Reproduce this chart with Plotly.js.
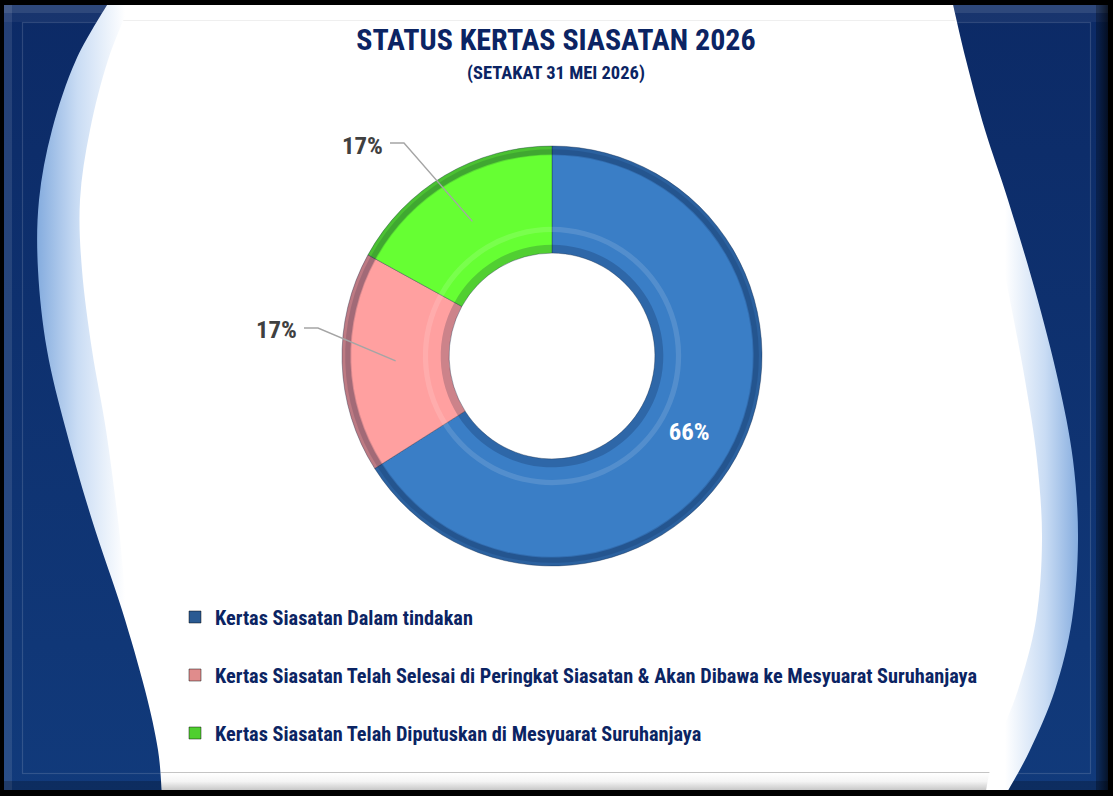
<!DOCTYPE html>
<html><head><meta charset="utf-8">
<script src="https://cdn.plot.ly/plotly-3.0.1.min.js"></script>
<style>html,body{margin:0;padding:0;background:#000;overflow:hidden}#chart{width:1113px;height:796px}</style>
</head><body><div id="chart"></div>
<script>
// ---------- data ----------
const categories = [
  'Kertas Siasatan Dalam tindakan',
  'Kertas Siasatan Telah Selesai di Peringkat Siasatan & Akan Dibawa ke Mesyuarat Suruhanjaya',
  'Kertas Siasatan Telah Diputuskan di Mesyuarat Suruhanjaya'
];
const shares = [66, 17, 17];
const titleText = 'STATUS KERTAS SIASATAN 2026';
const subtitleText = '(SETAKAT 31 MEI 2026)';

// ---------- styles ----------
const sliceColors = ['#3A7EC6', '#FFA0A0', '#66FF33'];
const legendColors = ['#2a5a92', '#e08c8c', '#4fcf2f'];
const NAVY = '#0b2463';
const W = 1113, H = 796;
const CX = 552, CY = 356, R = 210, HOLE = 0.49;
// label anchor positions (px) for the outside labels, by slice index
const outsideLabelPos = [null, {x: 276, y: 330}, {x: 362, y: 145}];

// ---------- pick the narrowest available condensed font ----------
const cv = document.createElement('canvas').getContext('2d');
function measure(fam, txt, size) { cv.font = `bold ${size}px ${fam}`; return cv.measureText(txt).width; }
function available(name) {
  const t = 'STATUS Kertas 2026 &%';
  return measure(`"${name}", monospace`, t, 40) !== measure('monospace', t, 40) ||
         measure(`"${name}", serif`, t, 40) !== measure('serif', t, 40);
}
const candidates = ['Roboto Condensed', 'Liberation Sans Narrow', 'Arial Narrow', 'Noto Sans Condensed',
                    'Open Sans Condensed', 'Noto Sans Display Condensed', 'DejaVu Sans Condensed'];
let chosen = candidates.find(available) || 'DejaVu Sans Condensed';
const FONT = `"${chosen}", "DejaVu Sans Condensed", sans-serif`;
function fit(txt, targetW, maxSize) {
  const w = measure(FONT, txt, 100);
  return Math.min(maxSize, Math.floor(100 * targetW / w * 10) / 10);
}
const titleSize = fit(titleText, 406, 30);
const subSize = fit(subtitleText, 179, 20);
const legendSize = fit(categories[1], 766, 21);
const labelSize = fit('17%', 41, 27);

function dom(r) {
  return {x: [(CX - r) / W, (CX + r) / W], y: [(H - CY - r) / H, (H - CY + r) / H]};
}
const px = (x) => x / W, py = (y) => 1 - y / H;

// ---------- background (decorative frame) ----------
function segs(pts) {
  let d = '';
  for (let i = 0; i < pts.length - 1; i++) {
    const p0 = pts[i - 1] || pts[i], p1 = pts[i], p2 = pts[i + 1], p3 = pts[i + 2] || p2;
    const c1 = [p1[0] + (p2[0] - p0[0]) / 6, p1[1] + (p2[1] - p0[1]) / 6];
    const c2 = [p2[0] - (p3[0] - p1[0]) / 6, p2[1] - (p3[1] - p1[1]) / 6];
    d += ` C${c1[0].toFixed(1)},${c1[1].toFixed(1)} ${c2[0].toFixed(1)},${c2[1].toFixed(1)} ${p2[0]},${p2[1]}`;
  }
  return d;
}
const Ldark = [[110,0],[76,60],[52,130],[39,200],[38,270],[47,350],[66,430],[92,520],[122,610],[145,690],[158,750],[162,796]];
const Llight = [[132,0],[108,60],[90,130],[80,200],[82,270],[92,350],[106,430],[118,520],[128,610],[146,690],[158,750],[162,796]];
const Rdark = [[952,0],[966,60],[985,130],[1008,200],[1035,290],[1058,380],[1073,460],[1078,540],[1072,620],[1055,690],[1030,750],[1005,796]];
const Rlight = [[952,0],[961,60],[974,130],[990,200],[1008,290],[1025,380],[1037,460],[1042,540],[1036,620],[1018,690],[995,750],[985,796]];
const regL = (p) => `M0,0 L${p[0][0]},${p[0][1]}${segs(p)} L0,796 Z`;
const regR = (p) => `M1113,0 L${p[0][0]},${p[0][1]}${segs(p)} L1113,796 Z`;

const svg = `<svg xmlns="http://www.w3.org/2000/svg" width="1113" height="796" viewBox="0 0 1113 796">
<defs>
<linearGradient id="dk" x1="0" y1="0" x2="0" y2="1"><stop offset="0" stop-color="#0c2a66"/><stop offset="1" stop-color="#113a7b"/></linearGradient>
<linearGradient id="lbL" gradientUnits="userSpaceOnUse" x1="38" y1="0" x2="125" y2="0"><stop offset="0" stop-color="#86addf"/><stop offset="0.45" stop-color="#c9dcf4"/><stop offset="1" stop-color="#ffffff"/></linearGradient>
<linearGradient id="lbR" gradientUnits="userSpaceOnUse" x1="1078" y1="0" x2="1005" y2="0"><stop offset="0" stop-color="#86addf"/><stop offset="0.45" stop-color="#c9dcf4"/><stop offset="1" stop-color="#ffffff"/></linearGradient>
<linearGradient id="btm" x1="0" y1="0" x2="0" y2="1"><stop offset="0" stop-color="#ffffff"/><stop offset="0.5" stop-color="#f4f4f4"/><stop offset="1" stop-color="#c8c8c8"/></linearGradient>
<linearGradient id="shR" x1="0" y1="0" x2="1" y2="0"><stop offset="0" stop-color="#000" stop-opacity="0"/><stop offset="1" stop-color="#000" stop-opacity="0.8"/></linearGradient>
<clipPath id="inner"><rect x="4" y="5" width="1104" height="785"/></clipPath>
<clipPath id="dkc"><path d="${regL(Ldark)}"/><path d="${regR(Rdark)}"/></clipPath>
</defs>
<rect width="1113" height="796" fill="#000"/>
<g clip-path="url(#inner)">
<rect width="1113" height="796" fill="#fff"/>
<line x1="0" y1="20.5" x2="1113" y2="20.5" stroke="#efefef" stroke-width="1"/>
<rect x="0" y="773" width="1113" height="17" fill="url(#btm)"/>
<line x1="0" y1="772.5" x2="1113" y2="772.5" stroke="#c4c4c4" stroke-width="1.2"/>
<path d="${regL(Llight)}" fill="url(#lbL)"/>
<path d="${regR(Rlight)}" fill="url(#lbR)"/>
<path d="${regL(Ldark)}" fill="url(#dk)"/>
<path d="${regR(Rdark)}" fill="url(#dk)"/>
<g clip-path="url(#dkc)">
<rect x="4" y="5" width="1104" height="8" fill="#fff" fill-opacity="0.14"/>
<rect x="4" y="5" width="8" height="785" fill="#fff" fill-opacity="0.10"/>
<rect x="4" y="13" width="1104" height="9" fill="#fff" fill-opacity="0.05"/>
<rect x="22.5" y="22.5" width="1068" height="751" fill="none" stroke="#fff" stroke-opacity="0.14" stroke-width="1.2"/>
<rect x="4" y="781" width="1104" height="9" fill="#000" fill-opacity="0.22"/>
<rect x="1096" y="5" width="12" height="785" fill="#000" fill-opacity="0.28"/>
</g>
</g>
<rect x="1098" y="0" width="15" height="796" fill="url(#shR)"/>
</svg>`;
const bgURI = 'data:image/svg+xml;charset=utf-8,' + encodeURIComponent(svg);

// ---------- geometry derived from data ----------
const total = shares.reduce((a, b) => a + b, 0);
const mids = [];
{ let acc = 0; shares.forEach(v => { mids.push((acc + v / 2) / total * 360); acc += v; }); }
const ringMid = R * (1 + HOLE) / 2;
const slicePoint = (i) => {
  const a = mids[i] * Math.PI / 180;
  return {x: CX + ringMid * Math.sin(a), y: CY - ringMid * Math.cos(a)};
};

// ---------- traces ----------
const traces = [];
const baseRing = (r, hole, colors) => ({
  type: 'pie', values: shares, labels: categories, sort: false, direction: 'clockwise', rotation: 0,
  domain: dom(r), hole: hole, textinfo: 'none', hoverinfo: 'skip', showlegend: false,
  marker: {colors: colors, line: {width: 0, color: 'rgba(0,0,0,0)'}}
});
traces.push({
  type: 'pie', values: shares, labels: categories, sort: false, direction: 'clockwise', rotation: 0,
  domain: dom(R), hole: HOLE, showlegend: false,
  marker: {colors: sliceColors, line: {color: 'rgba(20,40,70,0.35)', width: 1}},
  texttemplate: '%{percent:.0%}', textposition: shares.map((v, i) => i === 0 ? 'inside' : 'none'),
  insidetextorientation: 'horizontal',
  textfont: {family: FONT, size: labelSize, color: '#ffffff', weight: 'bold'},
  hovertemplate: '%{label}: %{percent}<extra></extra>'
});
// bevel shading rings (same values)
traces.push(baseRing(R, 0.96, shares.map(() => 'rgba(0,15,50,0.26)')));
traces.push(baseRing(R * 0.985, 0.97, shares.map(() => 'rgba(0,15,50,0.14)')));
traces.push(baseRing(R * 0.53, HOLE / 0.53, shares.map(() => 'rgba(0,15,50,0.2)')));
traces.push(baseRing(R * 0.615, 0.59 / 0.615, shares.map(() => 'rgba(255,255,255,0.13)')));

// legend entries
categories.forEach((c, i) => traces.push({
  type: 'scatter', x: [0], y: [0], mode: 'markers', name: c, legendgroup: 'g' + i,
  marker: {symbol: 'square', size: 12, color: legendColors[i], line: {color: 'rgba(0,0,0,0.45)', width: 1}},
  hoverinfo: 'skip'
}));

// ---------- outside labels ----------
const annotations = [{
  text: '<b>' + subtitleText + '</b>', xref: 'paper', yref: 'paper', x: px(556), y: py(73),
  xanchor: 'center', yanchor: 'middle', showarrow: false, font: {family: FONT, size: subSize, color: NAVY}
}];
const shapes = [];
shares.forEach((v, i) => {
  const pos = outsideLabelPos[i];
  if (!pos) return;
  annotations.push({
    text: '<b>' + Math.round(v / total * 100) + '%</b>', xref: 'paper', yref: 'paper',
    x: px(pos.x), y: py(pos.y), xanchor: 'center', yanchor: 'middle', showarrow: false,
    font: {family: FONT, size: labelSize, color: '#404040'}
  });
  const p = slicePoint(i);
  const sx = pos.x + 28, ex = pos.x + 42, ly = pos.y - 2;
  shapes.push({
    type: 'path', xref: 'paper', yref: 'paper', layer: 'above',
    path: `M${px(sx)},${py(ly)} L${px(ex)},${py(ly)} L${px(p.x)},${py(p.y)}`,
    line: {color: '#a5a5a5', width: 1.4}
  });
});

const itemH = legendSize * 1.3 + 3;
const layout = {
  width: W, height: H, margin: {l: 0, r: 0, t: 0, b: 0},
  paper_bgcolor: 'rgba(0,0,0,0)', plot_bgcolor: 'rgba(0,0,0,0)',
  xaxis: {visible: false, range: [10, 11], fixedrange: true},
  yaxis: {visible: false, range: [10, 11], fixedrange: true},
  showlegend: true,
  legend: {x: px(175), xanchor: 'left', y: py(617 - itemH / 2 - 5), yanchor: 'top', traceorder: 'grouped',
           tracegroupgap: Math.max(0, 58 - itemH), bgcolor: 'rgba(0,0,0,0)',
           font: {family: FONT, size: legendSize, color: NAVY, weight: 'bold'}},
  title: {text: '<b>' + titleText + '</b>', x: px(556), xanchor: 'center', xref: 'container',
          y: py(39), yanchor: 'middle', yref: 'container',
          font: {family: FONT, size: titleSize, color: NAVY}},
  images: [{source: bgURI, xref: 'paper', yref: 'paper', x: 0, y: 1, sizex: 1, sizey: 1,
            sizing: 'stretch', layer: 'below', xanchor: 'left', yanchor: 'top'}],
  annotations: annotations, shapes: shapes
};
Plotly.newPlot('chart', traces, layout, {displayModeBar: false, responsive: false});
</script></body></html>
